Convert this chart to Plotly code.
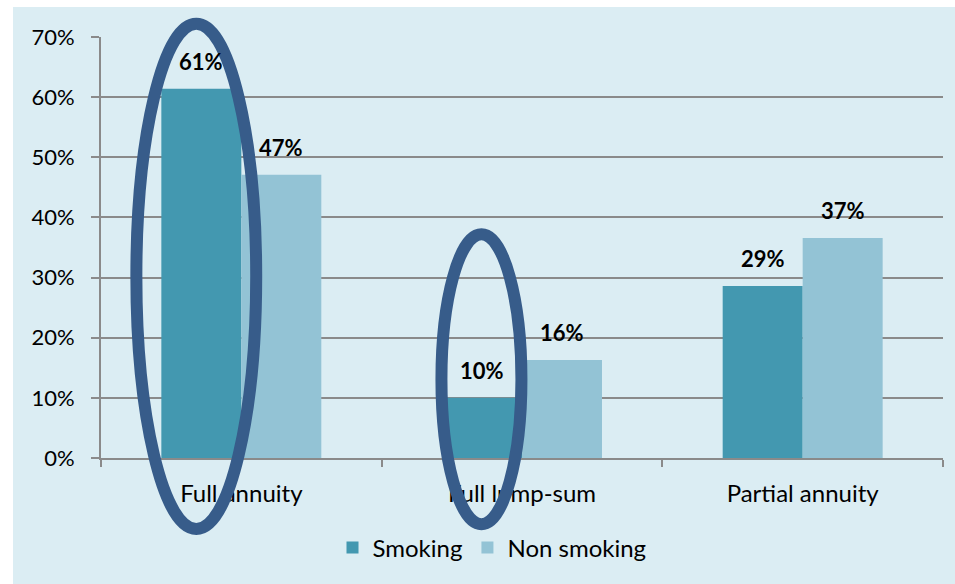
import plotly.graph_objects as go

categories = ["Full annuity", "Full lump-sum", "Partial annuity"]
smoking = [0.614, 0.10, 0.286]
non_smoking = [0.471, 0.163, 0.366]
series_names = ["Smoking", "Non smoking"]
y_ticks = [0, 0.1, 0.2, 0.3, 0.4, 0.5, 0.6, 0.7]

C_SMOKE = "#4398B0"
C_NON = "#93C3D5"
C_ELL = "#375C8A"
BG = "#DBEDF3"
GRID = "#8A8A8A"
FONT = "Lato, 'Open Sans', sans-serif"

W, H = 955, 584
ML, MR, MT, MB = 101, 12, 37, 126
YMAX = 0.7

fig = go.Figure()
fig.add_trace(go.Bar(name=series_names[0], x=categories, y=smoking,
                     marker=dict(color=C_SMOKE, line=dict(width=0))))
fig.add_trace(go.Bar(name=series_names[1], x=categories, y=non_smoking,
                     marker=dict(color=C_NON, line=dict(width=0))))

# value labels
for vals, dx in ((smoking, -40), (non_smoking, 40)):
    for c, v in zip(categories, vals):
        fig.add_annotation(x=c, y=v, xref="x", yref="y", text=f"<b>{round(v*100):.0f}%</b>",
                           showarrow=False, xshift=dx, yshift=27, yanchor="middle",
                           font=dict(family=FONT, size=22, color="black"))

pw = W - ML - MR
ph = H - MT - MB

def px2paper_x(px):
    return (px - ML) / pw

def px2paper_y(py):
    return (H - MB - py) / ph

def cat2paper(xc):
    return (xc + 0.5) / len(categories)

def val2paper(v):
    return v / YMAX

# background panel (white strip top and left)
fig.add_shape(type="rect", xref="paper", yref="paper",
              x0=px2paper_x(13), x1=px2paper_x(W + 5), y0=px2paper_y(H + 5), y1=px2paper_y(7),
              fillcolor=BG, line=dict(width=0), layer="below")

# highlight ellipses
ellipses = [(-0.374, 0.053, -0.118, 0.722), (0.713, 0.998, -0.110, 0.372)]
for x0, x1, y0, y1 in ellipses:
    fig.add_shape(type="circle", xref="paper", yref="paper",
                  x0=cat2paper(x0), x1=cat2paper(x1), y0=val2paper(y0), y1=val2paper(y1),
                  line=dict(color=C_ELL, width=12), fillcolor="rgba(0,0,0,0)", layer="above")

fig.update_layout(
    width=W, height=H,
    margin=dict(l=ML, r=MR, t=MT, b=MB),
    paper_bgcolor="white",
    plot_bgcolor="rgba(0,0,0,0)",
    barmode="group",
    bargap=0.43,
    bargroupgap=0,
    font=dict(family=FONT, size=22, color="black"),
    showlegend=True,
    legend=dict(orientation="h", x=px2paper_x(492), xanchor="center",
                y=px2paper_y(548), yanchor="middle",
                font=dict(family=FONT, size=24, color="black"),
                bgcolor="rgba(0,0,0,0)", itemwidth=30, tracegroupgap=0),
    xaxis=dict(showline=True, linecolor=GRID, linewidth=2, ticks="outside",
               tickson="boundaries", ticklen=7, tickcolor=GRID, tickwidth=2,
               showgrid=False, tickfont=dict(family=FONT, size=24),
               ticklabelstandoff=13),
    yaxis=dict(range=[0, YMAX], tickvals=y_ticks, tickformat=".0%",
               showline=True, linecolor=GRID, linewidth=2, ticks="outside",
               ticklen=8, tickcolor=GRID, tickwidth=2,
               showgrid=True, gridcolor=GRID, gridwidth=2, zeroline=False,
               tickfont=dict(family=FONT, size=22), ticklabelstandoff=12),
)

fig.write_html("out.html")
